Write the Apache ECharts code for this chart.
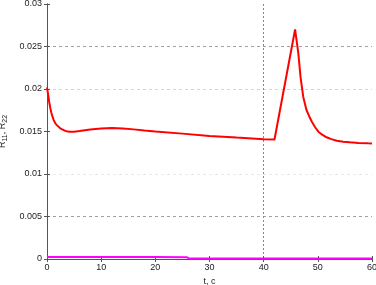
<!DOCTYPE html>
<html><head><meta charset="utf-8">
<script src="https://cdn.jsdelivr.net/npm/echarts@6/dist/echarts.min.js"></script>
<style>html,body{margin:0;padding:0;background:#fff}#c{width:376px;height:285px}</style>
</head><body><div id="c"></div>
<script>
// Data
const tR = [0, 0.2, 0.4, 0.6, 0.8, 1.0, 1.2, 1.5, 1.8, 2.1, 2.4, 2.8, 3.2, 3.6, 4.2, 5.0, 6.0, 7.0, 8.0, 9.0, 10.0, 11.0, 12.0, 14.0, 16.0, 18.0, 20.0, 25.0, 30.0, 35.0, 40.0, 42.0, 45.8, 46.1, 46.4, 46.8, 47.3, 47.9, 48.4, 48.9, 49.5, 50.1, 50.8, 51.6, 52.5, 53.5, 54.7, 55.9, 57.5, 59.3, 60.0];
const r11 = [0.0202, 0.0194, 0.0185, 0.0178, 0.0172, 0.0168, 0.0164, 0.0160, 0.01575, 0.01555, 0.0154, 0.01525, 0.01512, 0.01504, 0.01498, 0.01498, 0.01505, 0.01515, 0.01524, 0.0153, 0.01536, 0.01538, 0.0154, 0.01535, 0.01525, 0.01512, 0.0150, 0.01475, 0.01448, 0.01428, 0.0141, 0.01406, 0.0270, 0.0256, 0.0242, 0.02145, 0.0191, 0.01753, 0.0168, 0.01615, 0.0155, 0.01498, 0.01462, 0.01432, 0.0141, 0.01392, 0.0138, 0.01373, 0.01366, 0.01361, 0.0136];
const tM = [0, 10, 20, 25.8, 26.2, 40, 60];
const r22 = [0.00025, 0.00024, 0.00023, 0.00022, 0.00006, 0.00005, 0.00005];
const xTicks = [0, 10, 20, 30, 40, 50, 60];
const yTicks = [0, 0.005, 0.01, 0.015, 0.02, 0.025, 0.03];

const axisCol = '#555';
const chart = echarts.init(document.getElementById('c'), null, {renderer: 'canvas'});
const fnt = 'Liberation Sans, Arial, sans-serif';
chart.setOption({
  animation: false,
  grid: {left: 47, right: 4, top: 4, bottom: 26, containLabel: false, outerBoundsMode: 'none'},
  xAxis: [{
    type: 'value', min: xTicks[0], max: xTicks[xTicks.length-1], interval: 10,
    name: 't, c', nameLocation: 'middle', nameGap: 13,
    nameTextStyle: {fontFamily: fnt, fontSize: 9, color: '#222'},
    axisLine: {show: true, lineStyle: {color: axisCol, width: 1}},
    axisTick: {show: true, inside: true, length: 3, lineStyle: {color: axisCol}},
    axisLabel: {fontFamily: fnt, fontSize: 9, color: '#222', margin: 4},
    splitLine: {show: true, lineStyle: {color: ['transparent','transparent','transparent','transparent','#888','transparent','transparent'], type: [2,2], width: 1}}
  }, {
    type: 'value', position: 'top', min: 0, max: 60, interval: 10,
    axisLine: {show: true, lineStyle: {color: axisCol}},
    axisTick: {show: true, inside: true, length: 3, lineStyle: {color: axisCol}},
    axisLabel: {show: false}, splitLine: {show: false}
  }],
  yAxis: [{
    type: 'value', min: yTicks[0], max: yTicks[yTicks.length-1], interval: 0.005,
    name: 'R{s|11}, R{s|22}', nameLocation: 'middle', nameGap: 36, nameRotate: 90,
    nameTextStyle: {fontFamily: fnt, fontSize: 9, color: '#222', rich: {s: {fontSize: 7, verticalAlign: 'bottom', padding: [6,0,0,0], fontFamily: fnt, color: '#222'}}},
    axisLine: {show: true, lineStyle: {color: axisCol, width: 1}},
    axisTick: {show: true, inside: true, length: 3, lineStyle: {color: axisCol}},
    axisLabel: {fontFamily: fnt, fontSize: 9, color: '#222', margin: 5, formatter: v => String(parseFloat(v.toFixed(4)))},
    splitLine: {show: true, lineStyle: {color: ['transparent','#a0a0a0','#e8e8e8','transparent','#d4d4d4','#a0a0a0','transparent'], type: [3,3], width: 1}}
  }, {
    type: 'value', position: 'right', min: 0, max: 0.03, interval: 0.005,
    axisLine: {show: true, lineStyle: {color: axisCol}},
    axisTick: {show: true, inside: true, length: 3, lineStyle: {color: axisCol}},
    axisLabel: {show: false}, splitLine: {show: false}
  }],
  series: [{
    type: 'line', data: tR.map((t,i)=>[t, r11[i]]), showSymbol: false,
    lineStyle: {color: '#ff0000', width: 2}, z: 3
  }, {
    type: 'line', data: tM.map((t,i)=>[t, r22[i]]), showSymbol: false,
    lineStyle: {color: '#ff00ff', width: 2}, z: 4
  }]
});
</script></body></html>
